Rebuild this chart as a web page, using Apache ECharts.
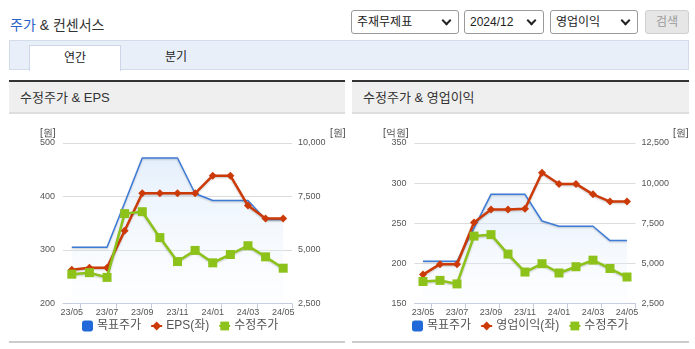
<!DOCTYPE html>
<html lang="ko">
<head>
<meta charset="utf-8">
<title>주가 & 컨센서스</title>
<script src="https://cdn.jsdelivr.net/npm/echarts@6/dist/echarts.min.js"></script>
<style>
  html, body { margin: 0; padding: 0; background: #fff; }
  body { width: 695px; height: 349px; position: relative; overflow: hidden;
         font-family: 'Liberation Sans', 'Noto Sans CJK KR', sans-serif; color: #333; }
  .abs { position: absolute; }
  .title { left: 10px; top: 15px; font-size: 14px; line-height: 20px; color: #333; white-space: nowrap; }
  .title .hl { color: #2a63c9; }
  .sel { top: 10px; height: 22px; border: 1px solid #9a9a9a; border-radius: 3px; background: #fff;
         font-size: 12px; line-height: 22px; padding-left: 5px; box-sizing: content-box; color: #222; }
  .sel::after { content: ''; position: absolute; right: 8px; top: 6px; width: 5px; height: 5px;
         border-right: 2px solid #222; border-bottom: 2px solid #222; transform: rotate(45deg); }
  .btn { left: 645px; top: 10px; width: 42px; height: 22px; border: 1px solid #cfcfcf; border-radius: 3px;
         background: #e6e6e6; color: #9a9a9a; font-size: 12px; line-height: 22px; text-align: center; }
  .tabbar { left: 9px; top: 40px; width: 678px; height: 28px; background: #e9eff9; border: 1px solid #d3dcea; }
  .tab { left: 29px; top: 45px; width: 90px; height: 25px; background: #fff; border: 1px solid #ccd6e6;
         border-bottom: none; font-size: 12px; line-height: 24px; text-align: center; color: #222; }
  .tab2 { left: 150px; top: 45px; width: 52px; height: 25px; font-size: 12px; line-height: 24px; text-align: center; color: #222; }
  .phead { top: 80px; height: 30px; background: #efefef; border-top: 2px solid #333; border-bottom: 2px solid #dedede;
           font-size: 13px; line-height: 31px; padding-left: 11px; box-sizing: content-box; color: #333; }
  .pfoot { top: 341px; height: 2px; background: #cccccc; }
  #chart { position: absolute; left: 0; top: 0; width: 695px; height: 349px; }
</style>
</head>
<body>
<div class="abs title"><span class="hl">주가</span> &amp; 컨센서스</div>
<div class="abs sel" style="left:351px; width:101px;">주재무제표</div>
<div class="abs sel" style="left:464px; width:73px;">2024/12</div>
<div class="abs sel" style="left:550px; width:81px;">영업이익</div>
<div class="abs btn">검색</div>
<div class="abs tabbar"></div>
<div class="abs tab">연간</div>
<div class="abs tab2">분기</div>
<div class="abs phead" style="left:9px; width:325px;">수정주가 &amp; EPS</div>
<div class="abs phead" style="left:352px; width:326px;">수정주가 &amp; 영업이익</div>
<div class="abs pfoot" style="left:9px; width:336px;"></div>
<div class="abs pfoot" style="left:352px; width:337px;"></div>
<div id="chart"></div>
<script>
// Monthly categories (every other one is labelled)
const months = ['23/05','23/06','23/07','23/08','23/09','23/10','23/11','23/12','24/01','24/02','24/03','24/04','24/05'];
// 목표주가 (원, right axis)
const targetPrice = [5125, 5125, 5125, 7200, 9300, 9300, 9300, 7640, 7310, 7310, 7310, 6420, 6420];
// 수정주가 (원, right axis)
const adjPrice = [3870, 3940, 3720, 6700, 6790, 5580, 4460, 4980, 4400, 4790, 5200, 4680, 4150];
// EPS (원, left axis)
const eps = [263, 267, 267, 336, 406, 406, 406, 406, 439, 439, 383, 359, 359];
// 영업이익 (억원, left axis)
const opProfit = [186, 199, 199, 251, 267, 267, 268, 313, 299, 299, 286, 277, 277];

// Axis ranges
const epsAxis = { min: 200, max: 500, interval: 100 };
const priceAxisL = { min: 2500, max: 10000, interval: 2500 };
const opAxis = { min: 150, max: 350, interval: 50 };
const priceAxisR = { min: 2500, max: 12500, interval: 2500 };

const FONT = "'Liberation Sans', 'Noto Sans CJK KR', sans-serif";
const BLUE = '#3d7bd8', RED = '#cc3a08', GREEN = '#8cc21a';

const chart = echarts.init(document.getElementById('chart'), null, { renderer: 'canvas' });

const grids = [
  { left: 63, right: 403, top: 143, bottom: 45.5 },
  { left: 414.5, right: 59.5, top: 143, bottom: 45.5 }
];

function xAxis(gi) {
  return {
    type: 'category', gridIndex: gi, data: months, boundaryGap: true,
    axisLine: { lineStyle: { color: '#c3cddd', width: 1 } },
    axisTick: { show: true, length: 5, interval: (i) => i % 2 === 1, lineStyle: { color: '#c3cddd' } },
    axisLabel: { interval: 1, fontSize: 9, color: '#555', margin: 5, fontFamily: FONT },
    splitLine: { show: false }
  };
}
function yAxis(gi, r, side, split) {
  return {
    type: 'value', gridIndex: gi, position: side, min: r.min, max: r.max, interval: r.interval,
    axisLine: { show: false }, axisTick: { show: false },
    axisLabel: {
      fontSize: 9, color: '#555', fontFamily: FONT, margin: side === 'left' ? 8 : 6,
      formatter: (v) => v.toLocaleString('en-US')
    },
    splitLine: { show: split, lineStyle: { color: '#dcdcdc', width: 1 } }
  };
}

const shadow = { shadowColor: 'rgba(0,0,0,0.22)', shadowBlur: 2, shadowOffsetY: 1 };

function targetSeries(gi, xi, yi) {
  return {
    name: '목표주가', type: 'line', xAxisIndex: xi, yAxisIndex: yi, data: targetPrice,
    showSymbol: false, symbol: 'none', z: 2,
    lineStyle: Object.assign({ color: BLUE, width: 1.5 }, shadow),
    itemStyle: { color: '#2168d8' },
    areaStyle: {
      origin: 'start',
      color: new echarts.graphic.LinearGradient(0, 0, 0, 1, [
        { offset: 0, color: 'rgba(205,225,248,0.75)' },
        { offset: 1, color: 'rgba(240,246,253,0.2)' }
      ])
    }
  };
}
function redSeries(name, data, xi, yi) {
  return {
    name: name, type: 'line', xAxisIndex: xi, yAxisIndex: yi, data: data, z: 3,
    symbol: 'diamond', symbolSize: 8, showSymbol: true,
    lineStyle: Object.assign({ color: RED, width: 2.5 }, shadow),
    itemStyle: { color: RED }
  };
}
function greenSeries(xi, yi) {
  return {
    name: '수정주가', type: 'line', xAxisIndex: xi, yAxisIndex: yi, data: adjPrice, z: 4,
    symbol: 'rect', symbolSize: 9, showSymbol: true,
    lineStyle: Object.assign({ color: GREEN, width: 2.5 }, shadow),
    itemStyle: { color: GREEN }
  };
}
function legend(left, names) {
  return {
    left: left, top: 320, itemWidth: 11, itemHeight: 11, itemGap: 9, padding: 0,
    textStyle: { fontSize: 12, color: '#555', fontFamily: FONT, padding: [0, 0, 0, -1] },
    data: [
      { name: names[0], icon: 'roundRect', itemStyle: { color: '#2168d8' } },
      { name: names[1] },
      { name: names[2] }
    ]
  };
}
function unitText(x, y, text, align) {
  return { type: 'text', left: align === 'right' ? undefined : x, right: align === 'right' ? 695 - x : undefined, top: y,
    style: { text: text, fontSize: 10, fill: '#444', font: '10px ' + FONT } };
}

chart.setOption({
  animation: false,
  grid: grids,
  xAxis: [xAxis(0), xAxis(1)],
  yAxis: [
    yAxis(0, epsAxis, 'left', true),
    yAxis(0, priceAxisL, 'right', false),
    yAxis(1, opAxis, 'left', true),
    yAxis(1, priceAxisR, 'right', false)
  ],
  legend: [
    legend(82, ['목표주가', 'EPS(좌)', '수정주가']),
    legend(412, ['목표주가', '영업이익(좌)', '수정주가'])
  ],
  graphic: [
    unitText(40, 128, '[원]'),
    unitText(330, 128, '[원]'),
    unitText(383, 128, '[억원]'),
    unitText(673, 128, '[원]')
  ],
  series: [
    targetSeries(0, 0, 1),
    redSeries('EPS(좌)', eps, 0, 0),
    greenSeries(0, 1),
    targetSeries(1, 1, 3),
    redSeries('영업이익(좌)', opProfit, 1, 2),
    greenSeries(1, 3)
  ]
});
</script>
</body>
</html>
